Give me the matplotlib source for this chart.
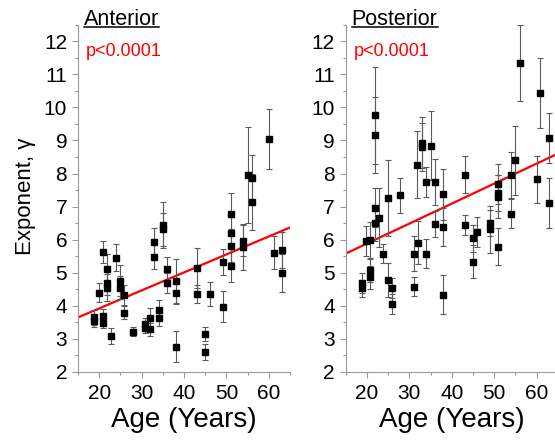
import numpy as np
import matplotlib
matplotlib.use('Agg')
import matplotlib.pyplot as plt
from matplotlib.lines import Line2D
from matplotlib.ticker import MultipleLocator

plt.rcParams['font.family'] = ['Liberation Sans', 'DejaVu Sans']

# Anterior: age, exponent gamma, error
ant_age = [18.8, 18.8, 20.0, 20.9, 20.9, 20.9, 21.9, 21.9, 21.9, 22.9,
           23.9, 24.9, 24.9, 25.9, 25.9, 28.0, 30.8, 30.8, 32.0, 32.0,
           33.0, 33.0, 34.0, 34.0, 35.0, 35.0, 36.0, 36.0, 38.0, 38.0,
           38.0, 43.0, 43.0, 45.0, 45.0, 46.1, 49.1, 49.1, 51.0, 51.0,
           51.0, 51.0, 54.0, 54.0, 55.0, 56.0, 56.0, 60.0, 61.2, 63.1,
           63.1]
ant_gamma = [3.65, 3.55, 4.40, 5.62, 3.70, 3.47, 5.12, 4.68, 4.55, 3.09,
             5.46, 4.76, 4.55, 4.33, 3.79, 3.22, 3.45, 3.32, 3.64, 3.29,
             5.94, 5.48, 3.87, 3.64, 6.44, 6.31, 5.11, 4.70, 4.76, 4.40,
             2.77, 5.15, 4.36, 3.15, 2.61, 4.36, 5.33, 3.97, 6.77, 6.21,
             5.82, 5.21, 5.97, 5.77, 7.95, 7.87, 7.15, 9.05, 5.60, 5.69,
             5.00]
ant_err = [0.22, 0.20, 0.28, 0.33, 0.20, 0.15, 0.45, 0.35, 0.40, 0.25,
           0.40, 0.47, 0.35, 0.30, 0.20, 0.14, 0.18, 0.15, 0.28, 0.20,
           0.42, 0.38, 0.30, 0.25, 0.70, 0.50, 0.37, 0.30, 0.67, 0.35,
           0.47, 0.60, 0.27, 0.22, 0.25, 0.35, 0.40, 0.47, 0.63, 0.50,
           0.50, 0.50, 0.47, 0.70, 1.45, 0.70, 0.85, 0.90, 0.50, 0.55,
           0.58]
ant_fit = (0.0544, 2.834)  # slope, intercept

# Posterior
post_age = [18.9, 18.9, 19.9, 20.8, 20.8, 20.8, 22.0, 22.0, 22.0, 22.0,
            22.9, 23.9, 24.9, 24.9, 25.9, 25.9, 27.9, 31.0, 31.0, 31.9,
            32.0, 32.9, 32.9, 33.9, 33.9, 35.0, 36.0, 36.0, 38.0, 38.0,
            38.0, 43.1, 43.1, 45.0, 45.0, 45.9, 49.0, 49.0, 51.0, 51.0,
            51.0, 51.0, 53.9, 53.9, 55.0, 56.0, 60.0, 60.9, 63.0, 63.0]
post_gamma = [4.68, 4.53, 5.96, 5.99, 5.08, 4.86, 9.76, 9.16, 6.97, 6.51,
              6.67, 5.58, 7.27, 4.78, 4.55, 4.05, 7.35, 5.58, 4.58, 8.27,
              5.90, 8.93, 8.81, 7.75, 5.58, 8.84, 7.75, 6.47, 7.37, 6.39,
              4.34, 7.97, 6.44, 6.04, 5.33, 6.24, 6.51, 6.31, 7.69, 7.42,
              7.30, 5.79, 7.95, 6.79, 8.40, 11.33, 7.82, 10.44, 9.08, 7.10]
post_err = [0.30, 0.25, 0.45, 0.55, 0.35, 0.35, 1.46, 1.14, 0.60, 0.55,
            0.90, 0.30, 1.15, 0.52, 0.30, 0.30, 0.53, 0.53, 0.29, 1.02,
            0.65, 0.77, 0.72, 0.45, 0.45, 1.04, 0.70, 0.40, 0.78, 0.57,
            0.58, 0.55, 0.30, 0.40, 0.50, 0.46, 0.40, 0.70, 0.60, 0.55,
            0.65, 0.55, 0.70, 0.45, 1.05, 1.15, 0.70, 1.05, 0.75, 0.75]
post_fit = (0.0604, 4.674)

fig = plt.figure(figsize=(5.55, 4.41), dpi=100)
ax1 = fig.add_axes([0.1405, 0.1565, 0.382, 0.7875])
ax2 = fig.add_axes([0.6229, 0.1565, 0.382, 0.7875])


def draw_panel(ax, age, gamma, err, fit, title):
    ax.errorbar(age, gamma, yerr=err, fmt='s', color='black', ms=5,
                ecolor='#5a5a5a', elinewidth=0.8, capsize=2.5, capthick=0.8,
                zorder=3)
    xs = np.array([15, 65])
    ax.plot(xs, fit[0] * xs + fit[1], color='red', lw=1.6, zorder=2)
    ax.set_xlim(15, 65)
    ax.set_ylim(2, 12.5)
    ax.xaxis.set_minor_locator(MultipleLocator(5))
    ax.yaxis.set_major_locator(MultipleLocator(1))
    ax.yaxis.set_minor_locator(MultipleLocator(0.5))
    ax.set_xticks([20, 30, 40, 50, 60])
    for s in ['top', 'right']:
        ax.spines[s].set_visible(False)
    for s in ['left', 'bottom']:
        ax.spines[s].set_color('#999999')
        ax.spines[s].set_linewidth(0.8)
    ax.tick_params(which='both', direction='out', color='#999999', width=0.8)
    ax.tick_params(which='major', length=4, labelsize=15)
    ax.tick_params(which='minor', length=2.5)
    ax.tick_params(axis='x', which='major', pad=4.5)
    ax.tick_params(axis='y', which='major', pad=3.8)
    ax.set_xlabel('Age (Years)', fontsize=20, labelpad=3)
    t = ax.text(0.028, 1.0, title, transform=ax.transAxes, fontsize=15.5,
                va='baseline', ha='left')
    ax.text(0.036, 0.91, 'p<0.0001', transform=ax.transAxes, fontsize=13,
            color='red', va='baseline', ha='left')
    return t


t1 = draw_panel(ax1, ant_age, ant_gamma, ant_err, ant_fit, 'Anterior')
t2 = draw_panel(ax2, post_age, post_gamma, post_err, post_fit, 'Posterior')

fig.text(25 / 555, 1 - 196 / 441, 'Exponent, γ', rotation=90, fontsize=16,
         ha='center', va='center')

# underline the panel titles
fig.canvas.draw()
r = fig.canvas.get_renderer()
inv = fig.transFigure.inverted()
for ax, t in [(ax1, t1), (ax2, t2)]:
    bb = t.get_window_extent(r)
    base = ax.transAxes.transform((0, 1.0))[1] - 2
    (x0, y0), (x1, _) = inv.transform([(bb.x0, base), (bb.x1, base)])
    fig.add_artist(Line2D([x0, x1], [y0, y0], color='black', lw=1.1,
                          transform=fig.transFigure))

fig.savefig('out.png', dpi=100)
